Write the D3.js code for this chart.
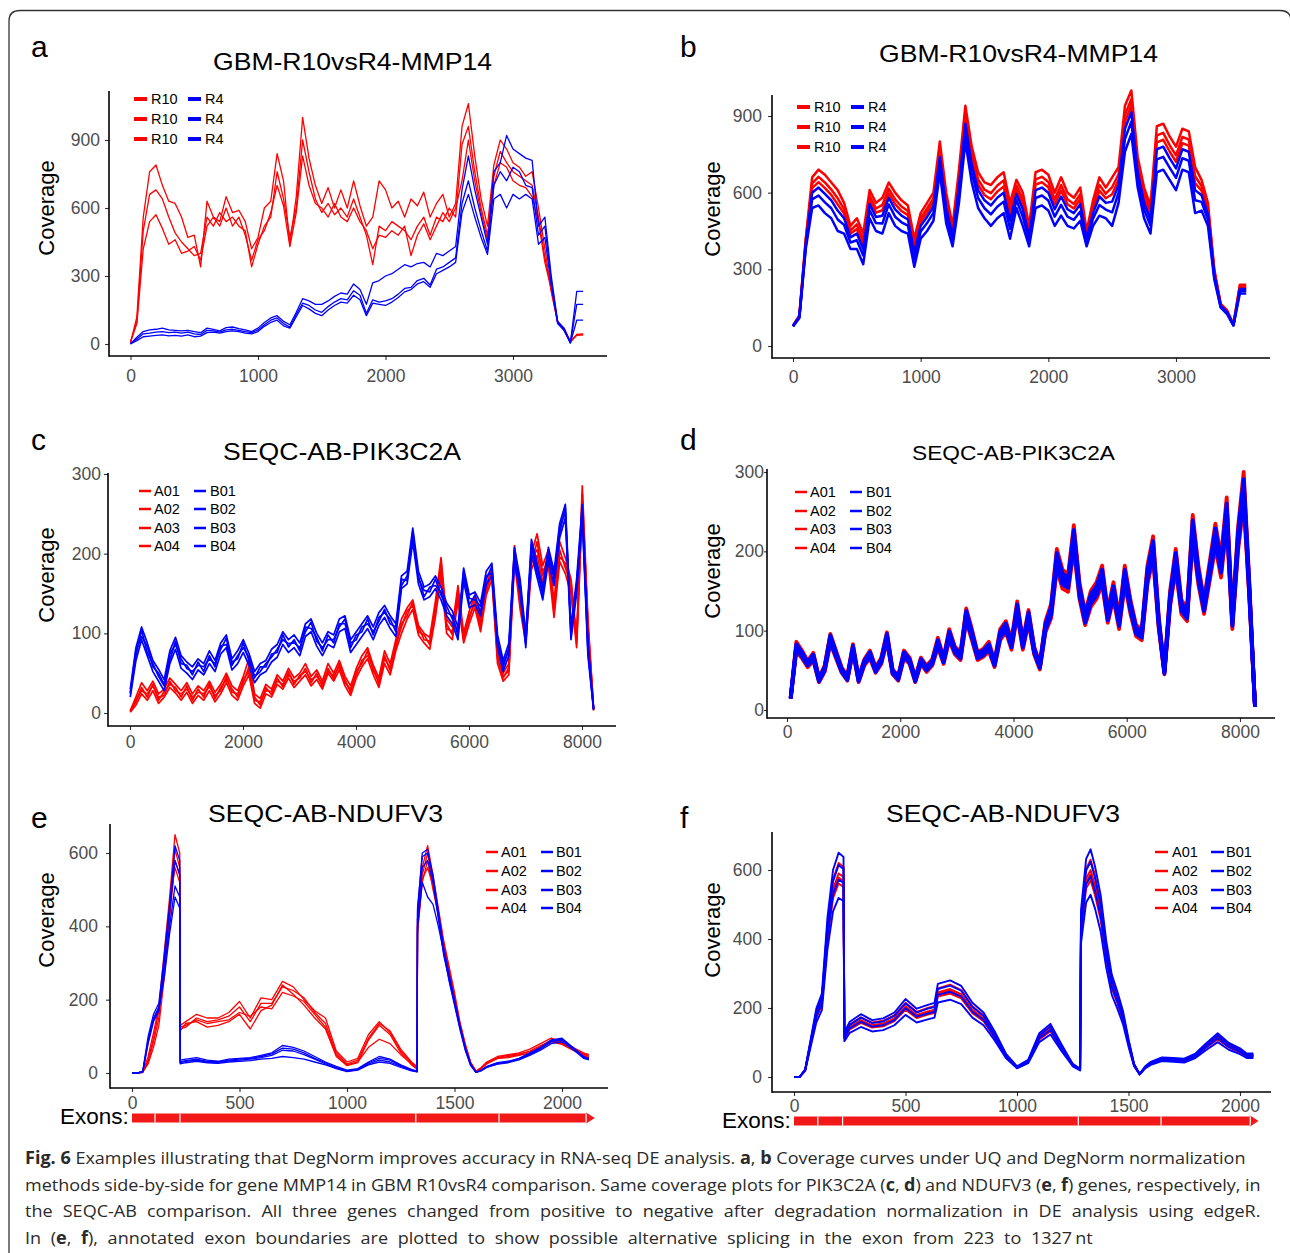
<!DOCTYPE html>
<html>
<head>
<meta charset="utf-8">
<script src="https://cdn.jsdelivr.net/npm/d3@7"></script>
<style>
  body { margin: 0; background: #fff; }
  svg { display: block; }
</style>
</head>
<body>
<svg id="fig" width="1290" height="1253"></svg>
<script>
// ---------- data ----------
// MMP14 (GBM R10 vs R4), coverage every 50 nt
var mmpPos = d3.range(0, 3551, 50);
var mmpSamplesR10 = ['R10', 'R10', 'R10'];
var mmpSamplesR4 = ['R4', 'R4', 'R4'];

var mmpUqR10 = [
  [5,120,560,760,790,700,630,620,560,470,480,340,630,560,540,650,580,590,540,420,470,600,630,840,720,440,650,1000,820,700,620,690,600,680,600,720,610,520,560,720,680,600,630,560,640,610,670,560,620,660,560,620,960,1060,830,640,520,790,900,860,800,780,740,760,600,420,230,95,60,8,42,45],
  [8,100,500,660,680,640,560,490,450,420,390,400,560,520,580,540,560,520,500,340,440,520,560,760,640,470,600,900,760,640,580,620,570,600,560,640,560,480,350,520,500,540,520,500,460,520,560,480,560,540,600,560,880,960,760,600,480,740,850,800,760,740,720,700,560,380,250,100,65,10,40,42],
  [10,90,420,540,570,510,440,460,400,410,430,370,520,560,520,600,520,560,480,370,460,500,580,700,610,430,580,830,700,620,600,560,620,560,540,600,540,500,420,480,470,500,480,520,390,480,530,460,520,580,540,600,720,900,720,580,460,700,800,780,720,700,690,650,540,360,240,100,70,12,38,40]
];
var mmpUqR4 = [
  [0,30,55,62,65,70,62,60,58,60,55,50,70,65,58,72,75,68,62,55,70,95,115,125,100,85,140,200,190,175,175,190,210,225,220,265,240,175,270,280,300,310,330,350,340,355,360,340,400,390,410,430,680,830,680,560,440,760,800,920,860,840,820,810,520,560,300,100,70,5,232,232],
  [2,22,45,48,52,55,50,52,48,52,45,42,60,58,52,62,65,60,55,50,62,85,105,115,90,75,130,180,170,150,140,165,185,200,195,235,215,135,195,185,190,200,220,245,250,280,290,260,330,340,360,380,620,720,600,500,410,700,760,720,780,760,700,690,480,520,280,95,65,5,175,175],
  [0,15,32,35,38,40,36,38,35,40,32,35,50,52,48,55,58,55,48,45,55,78,95,105,80,70,120,170,155,135,125,150,170,185,180,215,195,125,180,175,170,185,205,230,240,265,275,250,310,325,340,360,580,660,560,470,395,640,660,600,660,640,660,640,440,470,260,90,60,5,105,105]
];
var mmpDnR10 = [
  [80,120,420,660,690,670,640,610,560,470,500,440,610,560,580,640,600,570,550,420,520,560,600,800,600,470,690,940,780,680,640,630,660,680,560,650,600,470,680,690,670,600,660,600,580,620,450,570,660,620,660,700,940,1000,740,620,550,860,870,820,780,850,840,700,650,560,300,165,140,85,240,240],
  [79,118,412,636,662,640,612,578,536,452,476,416,588,538,552,616,574,546,528,398,500,538,578,776,576,454,664,912,752,652,612,598,628,648,532,628,574,454,652,662,642,574,630,574,556,594,438,550,630,596,622,672,904,966,716,596,528,824,834,786,746,818,808,664,626,542,292,162,137,84,233,233],
  [79,116,406,618,641,618,591,554,518,439,458,398,572,522,531,598,555,528,512,382,485,522,562,758,558,442,645,891,731,631,591,574,604,624,511,612,555,442,631,641,621,555,608,555,538,575,429,535,608,578,594,651,877,941,698,578,512,797,807,761,721,794,784,637,608,529,286,160,135,83,228,228]
];
var mmpDnR4 = [
  [78,115,400,600,620,595,570,530,500,425,440,380,555,505,510,580,535,510,495,365,470,505,545,740,540,430,625,870,710,610,570,550,580,600,490,595,535,430,610,620,600,535,585,535,520,555,420,520,585,560,565,630,850,915,680,560,495,770,780,735,695,770,760,610,590,515,280,158,133,83,223,223],
  [77,113,391,574,589,562,539,495,474,405,414,354,531,481,479,554,506,484,471,341,448,481,521,714,514,412,596,839,679,579,539,515,545,565,459,571,506,412,579,589,569,506,552,506,494,526,407,498,552,534,523,599,810,878,654,534,471,730,740,698,658,735,725,570,564,495,271,154,129,81,215,215],
  [76,110,380,540,550,520,500,450,440,380,380,320,500,450,440,520,470,450,440,310,420,450,490,680,480,390,560,800,640,540,500,470,500,520,420,540,470,390,540,550,530,470,510,470,460,490,390,470,510,500,470,560,760,830,620,500,440,680,690,650,610,690,680,520,530,470,260,150,125,80,205,205]
];

// PIK3C2A (SEQC A vs B), coverage every 100 nt
var seqcA = ['A01', 'A02', 'A03', 'A04'];
var seqcB = ['B01', 'B02', 'B03', 'B04'];
var pikPosUq = d3.range(5, 8206, 100);
var pikPosDn = d3.range(65, 8266, 100);

var pikUqA = [
  [3,20,38,28,40,24,30,44,36,28,38,24,34,28,40,26,36,50,34,28,46,68,24,18,36,30,48,40,56,44,50,62,46,54,40,62,50,66,46,34,56,72,82,60,44,78,62,92,118,132,142,110,100,95,140,195,118,108,160,100,128,148,118,162,180,78,50,62,210,148,100,200,225,185,205,140,215,195,168,95,285,118,6],
  [1,10,24,16,28,12,20,32,25,16,26,12,22,16,28,14,24,38,22,16,34,48,12,6,24,20,36,30,44,32,40,48,34,42,30,50,40,54,34,22,44,58,68,48,32,62,48,78,100,118,130,98,88,80,120,172,100,92,140,88,112,132,102,148,168,62,40,48,190,130,88,180,198,165,185,120,190,175,150,82,255,100,3],
  [2,16,28,24,34,20,22,40,28,24,30,20,26,24,33,22,28,46,26,24,38,58,16,14,28,27,40,36,48,40,44,56,38,50,33,56,43,62,38,30,48,66,72,57,36,72,53,88,108,128,135,108,92,90,128,190,106,102,145,97,118,143,108,158,172,72,44,57,195,143,92,193,205,178,190,133,196,188,155,92,265,112,5],
  [2,14,32,20,36,16,27,36,32,20,34,16,30,20,37,18,32,42,30,20,42,52,20,10,32,23,44,33,52,36,47,52,42,46,37,52,47,58,42,26,52,62,78,53,40,68,57,82,112,122,140,102,98,86,132,180,112,98,155,93,122,137,112,152,178,68,46,53,205,137,97,187,215,172,200,127,205,182,165,88,275,108,4]
];
var pikUqB = [
  [30,82,108,88,66,55,42,78,95,72,64,58,68,62,78,66,88,98,68,78,92,75,52,62,66,80,86,102,92,98,88,112,118,100,88,102,98,118,122,92,102,112,122,108,126,135,122,112,172,178,232,178,158,162,172,158,138,128,108,182,148,152,138,178,188,98,66,88,208,168,98,218,188,158,208,178,238,262,108,168,262,88,6],
  [20,66,92,72,52,40,28,62,80,56,50,42,54,48,62,52,74,82,54,62,76,60,38,48,52,64,70,86,76,82,72,96,102,84,72,86,82,102,106,76,86,96,106,92,110,120,106,96,156,162,215,162,142,146,156,142,122,112,92,165,132,136,122,162,172,82,52,72,190,150,82,200,170,142,190,160,220,245,92,150,245,72,4],
  [26,78,96,84,58,50,36,74,86,68,56,52,60,58,68,62,80,94,60,72,82,70,44,58,58,74,76,98,83,92,78,108,106,95,78,98,88,112,112,88,92,108,112,102,115,130,112,108,160,172,220,172,146,158,160,152,126,122,97,178,136,148,126,172,176,92,57,82,196,162,87,212,176,152,196,172,226,258,97,162,250,82,5],
  [24,72,104,76,62,46,34,66,90,62,60,48,64,52,72,58,84,86,64,68,88,66,46,52,62,70,80,92,87,88,82,102,114,90,82,92,92,108,118,82,98,102,118,98,120,126,118,102,168,166,228,168,154,152,168,148,134,118,103,172,144,142,134,168,184,88,62,78,204,158,93,208,184,148,204,168,234,252,103,158,258,78,5]
];
var pikDnA = [
  [16,86,75,62,72,41,56,96,75,54,43,83,41,64,75,54,66,98,51,43,75,66,41,66,56,64,91,66,102,80,73,128,102,73,77,86,62,102,112,88,137,88,126,80,59,112,134,203,177,171,233,161,123,150,161,182,126,161,118,182,139,107,102,182,219,118,51,150,203,139,128,246,182,139,187,235,193,268,118,230,300,161,4],
  [14,74,65,54,62,35,48,84,65,47,37,73,35,56,65,47,58,86,45,37,65,58,35,58,48,56,79,58,88,70,63,112,88,63,67,74,54,88,98,76,119,76,110,70,51,98,116,177,153,149,203,140,107,130,140,158,110,140,102,158,121,93,88,158,191,102,45,130,177,121,112,214,158,121,163,205,167,233,102,200,260,140,4],
  [15,82,72,60,69,39,54,93,72,52,41,80,39,62,72,52,64,95,49,41,72,64,39,64,54,62,88,64,98,77,70,124,98,70,74,82,60,98,108,84,132,84,122,77,57,108,129,196,170,165,225,155,118,144,155,175,122,155,113,175,134,103,98,175,211,113,49,144,196,134,124,237,175,134,180,227,185,258,113,221,288,155,4],
  [15,78,68,56,65,37,50,87,68,49,39,76,37,58,68,49,60,89,47,39,68,60,37,60,50,58,82,60,92,73,66,116,92,66,70,78,56,92,102,80,124,80,114,73,53,102,121,184,160,155,211,146,112,136,146,165,114,146,107,165,126,97,92,165,199,107,47,136,184,126,116,223,165,126,170,213,175,243,107,209,272,146,4]
];
var pikDnB = [
  [16,83,73,60,70,40,54,94,73,52,42,81,40,62,73,52,64,96,50,42,73,64,40,64,54,62,88,64,99,78,71,125,99,71,75,83,60,99,109,85,133,85,123,78,57,109,130,198,172,166,227,156,120,146,156,177,123,156,114,177,135,104,99,177,213,114,50,146,198,135,125,239,177,135,182,229,187,260,114,224,291,156,4],
  [14,77,67,56,64,36,50,86,67,48,38,75,36,58,67,48,60,88,46,38,67,60,36,60,50,58,82,60,91,72,65,115,91,65,69,77,56,91,101,79,123,79,113,72,53,101,120,182,158,154,209,144,110,134,144,163,113,144,106,163,125,96,91,163,197,106,46,134,182,125,115,221,163,125,168,211,173,240,106,206,269,144,4],
  [15,81,71,59,68,38,53,91,71,51,40,79,38,61,71,51,63,93,48,40,71,63,38,63,53,61,86,63,96,76,69,121,96,69,73,81,59,96,106,83,129,83,119,76,56,106,126,192,167,162,220,152,116,141,152,172,119,152,111,172,131,101,96,172,207,111,48,141,192,131,121,232,172,131,177,222,182,253,111,217,283,152,4],
  [15,79,69,57,66,38,51,89,69,50,40,77,38,59,69,50,61,91,48,40,69,61,38,61,51,59,84,61,94,74,67,119,94,67,71,79,57,94,104,81,127,81,117,74,54,104,124,188,163,158,216,149,114,139,149,168,117,149,109,168,129,99,94,168,203,109,48,139,188,129,119,228,168,129,173,218,178,248,109,213,277,149,4]
];

// NDUFV3 (SEQC A vs B)
var ndufPosUq = [0,25,50,75,100,125,150,175,200,222,224,250,300,350,400,450,500,550,600,650,700,750,800,850,900,950,1000,1050,1100,1150,1200,1250,1300,1326,1328,1350,1375,1400,1425,1450,1475,1500,1525,1550,1575,1600,1625,1650,1700,1750,1800,1850,1900,1950,2000,2050,2100,2125];
var ndufPosDn = [0,25,50,75,100,125,150,175,200,222,226,250,300,350,400,450,500,550,600,630,645,700,750,800,850,900,950,1000,1050,1100,1150,1200,1250,1283,1287,1310,1330,1350,1375,1400,1425,1450,1475,1500,1525,1550,1575,1600,1650,1700,1750,1800,1850,1900,1950,2000,2030,2060];

var ndufUqA = [
  [0,0,2,45,110,180,330,480,650,600,130,140,160,150,150,165,195,150,205,200,250,235,200,170,150,60,30,40,105,140,110,60,28,15,420,560,620,540,450,360,290,220,140,80,30,5,15,30,45,50,55,65,80,95,85,70,55,50],
  [0,0,2,30,85,150,290,450,610,560,120,125,150,140,145,155,180,140,190,190,235,225,205,165,135,55,25,35,95,135,115,65,30,18,400,540,600,520,440,350,285,210,135,75,28,5,15,28,40,45,50,60,75,88,80,65,50,45],
  [0,0,3,25,70,130,260,420,580,540,125,130,145,135,140,145,165,155,180,175,220,210,195,160,125,50,22,30,70,92,80,50,25,12,380,520,580,500,430,340,275,205,130,70,25,4,12,25,40,42,48,55,70,85,78,62,48,42],
  [0,0,2,35,95,170,300,460,560,520,115,135,140,125,130,140,160,120,170,185,240,215,185,150,120,45,20,28,90,130,105,55,22,10,390,530,560,510,435,345,280,200,128,72,26,5,14,27,42,48,52,58,72,90,82,66,52,48]
];
var ndufUqB = [
  [0,0,5,100,160,190,320,460,620,580,35,38,42,35,32,38,40,42,48,55,75,70,60,45,30,18,8,12,30,45,38,22,10,5,450,590,600,540,440,340,270,200,130,70,25,2,8,18,28,32,40,55,70,90,95,70,45,40],
  [0,0,4,90,150,180,300,440,580,540,30,34,38,32,30,35,38,40,45,52,68,65,55,40,28,15,6,10,28,40,35,20,8,4,420,560,580,520,420,320,255,190,125,65,22,2,7,16,25,30,38,50,65,85,90,68,42,38],
  [0,0,3,80,140,170,280,400,510,480,28,32,35,30,28,33,35,38,42,48,62,60,50,38,25,14,5,9,25,35,30,18,7,4,440,600,610,530,430,330,260,195,125,68,24,2,8,17,27,31,39,52,68,88,92,69,44,40],
  [0,0,3,85,145,175,260,380,480,450,25,28,32,28,26,30,32,34,38,40,45,42,38,30,22,12,4,8,22,30,26,15,6,3,400,520,480,460,400,330,250,185,120,62,20,2,6,15,24,28,36,48,62,80,85,65,40,36]
];
var ndufDnA = [
  [0,0,21,105,189,231,441,572,620,609,124,152,173,158,163,179,215,189,200,205,257,268,252,205,179,126,65,29,47,121,147,89,37,23,462,604,630,583,504,378,284,236,184,105,37,8,29,42,55,53,50,65,95,121,95,79,65,65],
  [0,0,20,100,180,220,420,545,590,580,118,145,165,150,155,170,205,180,190,195,245,255,240,195,170,120,62,28,45,115,140,85,35,22,440,575,600,555,480,360,270,225,175,100,35,8,28,40,52,50,48,62,90,115,90,75,62,62],
  [0,0,20,98,176,216,412,534,578,568,116,142,162,147,152,167,201,176,186,191,240,250,235,191,167,118,61,27,44,113,137,83,34,22,431,564,588,544,470,353,265,221,172,98,34,8,27,39,51,49,47,61,88,113,88,74,61,61],
  [0,0,19,95,171,209,399,518,561,551,112,138,157,143,147,162,195,171,181,185,233,242,228,185,162,114,59,27,43,109,133,81,33,21,418,546,570,527,456,342,257,214,166,95,33,8,27,38,49,48,46,59,86,109,86,71,59,59]
];
var ndufDnB = [
  [0,0,22,110,198,242,462,600,650,638,130,160,182,165,170,187,226,198,209,215,270,280,264,215,187,132,68,31,50,127,154,94,38,24,484,632,660,610,528,396,297,248,192,110,38,9,31,44,57,55,53,68,99,127,99,83,68,68],
  [0,0,21,104,187,229,437,567,614,603,123,151,172,156,161,177,213,187,198,203,255,265,250,203,177,125,64,29,47,120,146,88,36,23,458,598,624,577,499,374,281,234,182,104,36,8,29,42,54,52,50,64,94,120,94,78,64,64],
  [0,0,19,97,175,213,407,529,572,563,114,141,160,146,150,165,199,175,184,189,238,247,233,189,165,116,60,27,44,112,136,82,34,21,427,558,582,538,466,349,262,218,170,97,34,8,27,39,50,49,47,60,87,112,87,73,60,60],
  [0,0,18,88,158,194,370,480,519,510,104,128,145,132,136,150,180,158,167,172,216,224,211,172,150,106,55,25,40,101,123,75,31,19,387,506,528,488,422,317,238,198,154,88,31,7,25,35,46,44,42,55,79,101,79,66,55,55]
];
var ndufExonsUq = [0, 107, 223, 1320, 1707, 2112];
var ndufExonTipUq = 2153;
var ndufExonsDn = [0, 107, 218, 1275, 1646, 2046];
var ndufExonTipDn = 2083;

var ticksMmpX = [0, 1000, 2000, 3000], ticksMmpY = [0, 300, 600, 900];
var ticksPikX = [0, 2000, 4000, 6000, 8000], ticksPikY = [0, 100, 200, 300];
var ticksNdufX = [0, 500, 1000, 1500, 2000], ticksNdufY = [0, 200, 400, 600];

var captionLines = [
  [['Fig. 6', 1], [' Examples illustrating that DegNorm improves accuracy in RNA-seq DE analysis. ', 0], ['a', 1], [', ', 0], ['b', 1], [' Coverage curves under UQ and DegNorm normalization', 0]],
  [['methods side-by-side for gene MMP14 in GBM R10vsR4 comparison. Same coverage plots for PIK3C2A (', 0], ['c', 1], [', ', 0], ['d', 1], [') and NDUFV3 (', 0], ['e', 1], [', ', 0], ['f', 1], [') genes, respectively, in', 0]],
  [['the SEQC-AB comparison. All three genes changed from positive to negative after degradation normalization in DE analysis using edgeR.', 0]],
  [['In (', 0], ['e', 1], [', ', 0], ['f', 1], ['), annotated exon boundaries are plotted to show possible alternative splicing in the exon from 223 to 1327\u2009nt', 0]]
];

// ---------- layout ----------
var FONT = "'Liberation Sans', Arial, Helvetica, sans-serif";
var RED = '#ff0000', BLUE = '#0000ff';

var panels = [
  {label: 'a', lx: 31, ly: 57, title: 'GBM-R10vsR4-MMP14', tx: 213, tw: 279, ty: 70, ts: 24,
   left: 109, right: 607, top: 91, bottom: 356, xm: [0, 130.5, 3000, 513], ym: [0, 344, 900, 140],
   xt: ticksMmpX, yt: ticksMmpY, ysz: 4, ypad: 5, xpad: 9.6, cx: 46, cy: 208,
   pos: mmpPos, red: mmpUqR10, blue: mmpUqR4, lw: 1.3,
   leg: {rows: [99, 119, 139], k1: 134, t1: 151, k2: 188, t2: 205, kw: 13, ks: 4, n1: mmpSamplesR10, n2: mmpSamplesR4}},
  {label: 'b', lx: 680, ly: 57, title: 'GBM-R10vsR4-MMP14', tx: 879, tw: 279, ty: 62, ts: 24,
   left: 772, right: 1270, top: 95, bottom: 358, xm: [0, 793, 3000, 1176], ym: [0, 346, 900, 116],
   xt: ticksMmpX, yt: ticksMmpY, ysz: 4, ypad: 6, xpad: 8.6, cx: 712, cy: 209,
   pos: mmpPos, red: mmpDnR10, blue: mmpDnR4, lw: 2.5,
   leg: {rows: [107, 127, 147], k1: 797, t1: 814, k2: 851, t2: 868, kw: 13, ks: 4, n1: mmpSamplesR10, n2: mmpSamplesR4}},
  {label: 'c', lx: 31, ly: 450, title: 'SEQC-AB-PIK3C2A', tx: 223, tw: 238, ty: 460, ts: 24,
   left: 108, right: 616, top: 473, bottom: 726, xm: [0, 130, 8000, 582], ym: [0, 713, 300, 474],
   xt: ticksPikX, yt: ticksPikY, ysz: 4, ypad: 3, xpad: 5.6, cx: 46, cy: 575,
   pos: pikPosUq, red: pikUqA, blue: pikUqB, lw: 1.7,
   leg: {rows: [491, 509, 528, 546], k1: 139, t1: 154, k2: 194, t2: 210, kw: 12, ks: 2.5, n1: seqcA, n2: seqcB}},
  {label: 'd', lx: 680, ly: 450, title: 'SEQC-AB-PIK3C2A', tx: 912, tw: 203, ty: 460, ts: 21,
   left: 767, right: 1275, top: 469, bottom: 718, xm: [0, 787, 8000, 1240], ym: [0, 710, 300, 472],
   xt: ticksPikX, yt: ticksPikY, ysz: 3, ypad: 0, xpad: 3.6, cx: 712, cy: 571,
   pos: pikPosDn, red: pikDnA, blue: pikDnB, lw: 3.8,
   leg: {rows: [492, 511, 529, 548], k1: 795, t1: 810, k2: 850, t2: 866, kw: 12, ks: 2.5, n1: seqcA, n2: seqcB}},
  {label: 'e', lx: 31, ly: 828, title: 'SEQC-AB-NDUFV3', tx: 208, tw: 235, ty: 822, ts: 24,
   left: 110, right: 608, top: 824, bottom: 1088, xm: [0, 132, 2000, 562], ym: [0, 1073, 600, 853],
   xt: ticksNdufX, yt: ticksNdufY, ysz: 4, ypad: 8, xpad: 4.6, cx: 46, cy: 920,
   pos: ndufPosUq, red: ndufUqA, blue: ndufUqB, lw: 1.3,
   leg: {rows: [852, 871, 890, 908], k1: 486, t1: 501, k2: 541, t2: 556, kw: 12, ks: 2.5, n1: seqcA, n2: seqcB},
   exon: {lx: 60, ly: 1124, y: 1113.5, h: 9, b: ndufExonsUq, tip: ndufExonTipUq}},
  {label: 'f', lx: 680, ly: 828, title: 'SEQC-AB-NDUFV3', tx: 886, tw: 234, ty: 822, ts: 24,
   left: 772, right: 1271, top: 832, bottom: 1092, xm: [0, 794, 2000, 1240], ym: [0, 1077, 600, 870],
   xt: ticksNdufX, yt: ticksNdufY, ysz: 4, ypad: 6, xpad: 3.6, cx: 712, cy: 930,
   pos: ndufPosDn, red: ndufDnA, blue: ndufDnB, lw: 1.9,
   leg: {rows: [852, 871, 890, 908], k1: 1155, t1: 1172, k2: 1211, t2: 1226, kw: 13, ks: 2.5, n1: seqcA, n2: seqcB},
   exon: {lx: 722, ly: 1128, y: 1116.5, h: 9, b: ndufExonsDn, tip: ndufExonTipDn}}
];

var svg = d3.select('#fig');

// figure frame (rounded box; right and bottom edges fall outside the picture)
svg.append('path')
  .attr('d', 'M9,1260 L9,21 Q9,10.5 20,10.5 L1280,10.5 Q1291,10.5 1291,21 L1291,1260')
  .attr('fill', 'none').attr('stroke', '#333').attr('stroke-width', 1.3);

panels.forEach(function (p) {
  var g = svg.append('g');
  var x = d3.scaleLinear().domain([p.xm[0], p.xm[2]]).range([p.xm[1], p.xm[3]]);
  var y = d3.scaleLinear().domain([p.ym[0], p.ym[2]]).range([p.ym[1], p.ym[3]]);

  // panel letter + title
  g.append('text').attr('x', p.lx).attr('y', p.ly)
    .style('font-family', FONT).style('font-size', '30px').attr('fill', '#000').text(p.label);
  g.append('text').attr('x', p.tx).attr('y', p.ty)
    .attr('textLength', p.tw).attr('lengthAdjust', 'spacingAndGlyphs')
    .style('font-family', FONT).style('font-size', p.ts + 'px').attr('fill', '#000').text(p.title);

  // axes
  var gx = g.append('g').attr('transform', 'translate(0,' + p.bottom + ')')
    .call(d3.axisBottom(x).tickValues(p.xt).tickSize(4).tickPadding(p.xpad).tickFormat(d3.format('d')));
  var gy = g.append('g').attr('transform', 'translate(' + p.left + ',0)')
    .call(d3.axisLeft(y).tickValues(p.yt).tickSize(p.ysz).tickPadding(p.ypad).tickFormat(d3.format('d')));
  [gx, gy].forEach(function (ax) {
    ax.select('.domain').remove();
    ax.selectAll('line').attr('stroke', '#333').attr('stroke-width', 1.1);
    ax.selectAll('text').attr('fill', '#4d4d4d')
      .style('font-family', FONT).style('font-size', '17.5px');
  });
  g.append('line').attr('x1', p.left).attr('x2', p.right).attr('y1', p.bottom).attr('y2', p.bottom)
    .attr('stroke', '#000').attr('stroke-width', 1.6);
  g.append('line').attr('x1', p.left).attr('x2', p.left).attr('y1', p.top).attr('y2', p.bottom + 0.8)
    .attr('stroke', '#000').attr('stroke-width', 1.6);

  g.append('text')
    .attr('transform', 'translate(' + p.cx + ',' + p.cy + ') rotate(-90)')
    .attr('text-anchor', 'middle').attr('dominant-baseline', 'central')
    .style('font-family', FONT).style('font-size', '22px').attr('fill', '#000')
    .text('Coverage');

  // coverage curves: red group first, blue drawn over it
  var line = d3.line()
    .x(function (d, i) { return x(p.pos[i]); })
    .y(function (d) { return y(d); });
  var curves = g.append('g').attr('fill', 'none')
    .attr('stroke-width', p.lw).attr('stroke-linejoin', 'round');
  p.red.forEach(function (s) { curves.append('path').attr('d', line(s)).attr('stroke', RED); });
  p.blue.forEach(function (s) { curves.append('path').attr('d', line(s)).attr('stroke', BLUE); });

  // legend
  var L = p.leg;
  L.rows.forEach(function (ry, i) {
    [[L.k1, L.t1, RED, L.n1[i]], [L.k2, L.t2, BLUE, L.n2[i]]].forEach(function (c) {
      g.append('line').attr('x1', c[0]).attr('x2', c[0] + L.kw).attr('y1', ry).attr('y2', ry)
        .attr('stroke', c[2]).attr('stroke-width', L.ks);
      g.append('text').attr('x', c[1]).attr('y', ry).attr('dominant-baseline', 'central')
        .style('font-family', FONT).style('font-size', '14.5px').attr('fill', '#000').text(c[3]);
    });
  });

  // exon track
  if (p.exon) {
    var E = p.exon;
    g.append('text').attr('x', E.lx).attr('y', E.ly)
      .style('font-family', FONT).style('font-size', '22.5px').attr('fill', '#000').text('Exons:');
    var eg = g.append('g');
    for (var k = 0; k < E.b.length - 1; k++) {
      eg.append('rect').attr('x', x(E.b[k])).attr('y', E.y)
        .attr('width', x(E.b[k + 1]) - x(E.b[k])).attr('height', E.h).attr('fill', '#f21818');
    }
    var xe = x(E.b[E.b.length - 1]), xt = x(E.tip);
    eg.append('path')
      .attr('d', 'M' + xe + ',' + (E.y - 1) + 'L' + xt + ',' + (E.y + E.h / 2) + 'L' + xe + ',' + (E.y + E.h + 1) + 'Z')
      .attr('fill', '#f21818');
    E.b.slice(1).forEach(function (v) {
      eg.append('line').attr('x1', x(v)).attr('x2', x(v)).attr('y1', E.y).attr('y2', E.y + E.h)
        .attr('stroke', '#fff').attr('stroke-width', 1.2);
    });
  }
});

// caption: the printed figure is a little wider than tall, so glyphs are
// stretched by the factor that makes line 1 fit with plain spacing,
// then the remaining lines are spread with word spacing
var capBase = [1164, 1190.5, 1217, 1243.5];
var capEnd = [1246, 1261, 1261, 1093];
var capLeft = 25;
var capTexts = captionLines.map(function (segs, i) {
  var gl = svg.append('g');
  var t = gl.append('text').attr('x', 0).attr('y', 0)
    .style('font-family', "'Open Sans', 'Noto Sans', sans-serif").style('font-size', '17px')
    .attr('fill', '#2a2a2a');
  segs.forEach(function (s) {
    t.append('tspan').attr('font-weight', s[1] ? 700 : 400).text(s[0]);
  });
  return {g: gl, t: t, segs: segs};
});
var stretch = (capEnd[0] - capLeft) / capTexts[0].t.node().getComputedTextLength();
capTexts.forEach(function (c, i) {
  var natural = c.t.node().getComputedTextLength();
  var spaces = c.segs.map(function (s) { return s[0]; }).join('').split(' ').length - 1;
  var ws = i === 0 ? 0 : ((capEnd[i] - capLeft) / stretch - natural) / spaces;
  c.t.style('word-spacing', ws.toFixed(2) + 'px');
  c.g.attr('transform', 'translate(' + capLeft + ',' + capBase[i] + ') scale(' + stretch.toFixed(4) + ',1)');
});
</script>
</body>
</html>
